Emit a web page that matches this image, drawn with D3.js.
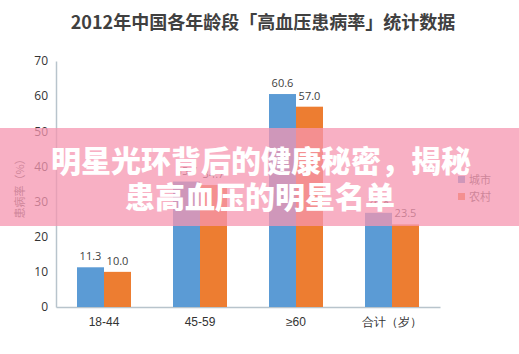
<!DOCTYPE html>
<html>
<head>
<meta charset="utf-8">
<script src="https://cdn.jsdelivr.net/npm/d3@7"></script>
<style>
  body { margin: 0; background: #fff; }
  svg { display: block; font-family: "Noto Sans CJK SC", "Noto Sans", sans-serif; }
</style>
</head>
<body>
<div id="chart"></div>
<script>
var categories = ["18-44", "45-59", "≥60", "合计（岁）"];
var seriesNames = ["城市", "农村"];
var cityValues = [11.3, 35.7, 60.6, 26.8];
var ruralValues = [10.0, 34.7, 57.0, 23.5];
var yTicks = [0, 10, 20, 30, 40, 50, 60, 70];
var colors = ["#5b9bd5", "#ed7d31"];

var W = 519, H = 354;
var margin = { top: 61, right: 79, bottom: 47, left: 56 },
    width = W - margin.left - margin.right,
    height = H - margin.top - margin.bottom;

var svg = d3.select("#chart").append("svg")
    .attr("width", W)
    .attr("height", H);

svg.append("text")
    .attr("x", 263)
    .attr("y", 29)
    .attr("text-anchor", "middle")
    .attr("fill", "#404040")
    .attr("font-size", 18)
    .attr("font-weight", "bold")
    .text("2012年中国各年龄段「高血压患病率」统计数据");

var g = svg.append("g")
    .attr("transform", "translate(" + margin.left + "," + margin.top + ")");

var x = d3.scaleBand().domain(categories).range([0, width]);
var x1 = d3.scaleBand().domain(seriesNames).range([0, 54]);
var y = d3.scaleLinear().domain([0, 70]).range([height, 0]);

var data = categories.map(function (c, i) {
    return { cat: c, vals: [cityValues[i], ruralValues[i]] };
});

// y axis
var yAxis = g.append("g")
    .call(d3.axisLeft(y).tickValues(yTicks).tickSize(0).tickPadding(8));
yAxis.select(".domain").attr("stroke", "#b8c4cc").attr("stroke-width", 1.5);
yAxis.selectAll("text").attr("font-size", 12).attr("fill", "#333")
    .attr("font-family", "'Open Sans', sans-serif");

// x axis
var xAxis = g.append("g")
    .attr("transform", "translate(0," + height + ")")
    .call(d3.axisBottom(x).tickSize(0).tickPadding(10));
xAxis.select(".domain").attr("stroke", "#b8c4cc").attr("stroke-width", 1.5);
xAxis.selectAll("text").attr("font-size", 12).attr("fill", "#333");

svg.append("text")
    .attr("transform", "translate(24," + 186 + ") rotate(-90)")
    .attr("text-anchor", "middle")
    .attr("fill", "#555")
    .attr("font-size", 11)
    .text("患病率（%）");

var groups = g.selectAll(".grp").data(data).enter().append("g")
    .attr("transform", function (d) { return "translate(" + (x(d.cat) + x.bandwidth() / 2 - 27) + ",0)"; });

groups.selectAll("rect").data(function (d) { return d.vals; }).enter().append("rect")
    .attr("x", function (v, i) { return x1(seriesNames[i]); })
    .attr("width", x1.bandwidth())
    .attr("y", function (v) { return y(v); })
    .attr("height", function (v) { return height - y(v); })
    .attr("fill", function (v, i) { return colors[i]; });

groups.selectAll(".lbl").data(function (d) { return d.vals; }).enter().append("text")
    .attr("x", function (v, i) { return x1(seriesNames[i]) + x1.bandwidth() / 2; })
    .attr("y", function (v) { return y(v) - 7; })
    .attr("text-anchor", "middle")
    .attr("fill", "#404040")
    .attr("font-size", 11)
    .attr("font-family", "'Open Sans', sans-serif")
    .text(function (v) { return v.toFixed(1); });

// legend
var leg = svg.selectAll(".leg").data(seriesNames).enter().append("g")
    .attr("transform", function (d, i) { return "translate(458," + (180 + i * 17) + ")"; });
leg.append("rect").attr("x", 0).attr("y", -4).attr("width", 7).attr("height", 7)
    .attr("fill", function (d, i) { return colors[i]; });
leg.append("text").attr("x", 11).attr("y", 4)
    .attr("font-size", 11).attr("fill", "#555")
    .text(function (d) { return d; });

// pink banner overlay
svg.append("rect")
    .attr("x", 0).attr("y", 128)
    .attr("width", W).attr("height", 98)
    .attr("fill", "rgba(246,150,176,0.75)");

svg.append("text")
    .attr("x", 261).attr("y", 172)
    .attr("text-anchor", "middle")
    .attr("fill", "#fff")
    .attr("font-size", 30)
    .attr("font-weight", 900)
    .text("明星光环背后的健康秘密，揭秘");

svg.append("text")
    .attr("x", 260).attr("y", 208)
    .attr("text-anchor", "middle")
    .attr("fill", "#fff")
    .attr("font-size", 30)
    .attr("font-weight", 900)
    .text("患高血压的明星名单");
</script>
</body>
</html>
